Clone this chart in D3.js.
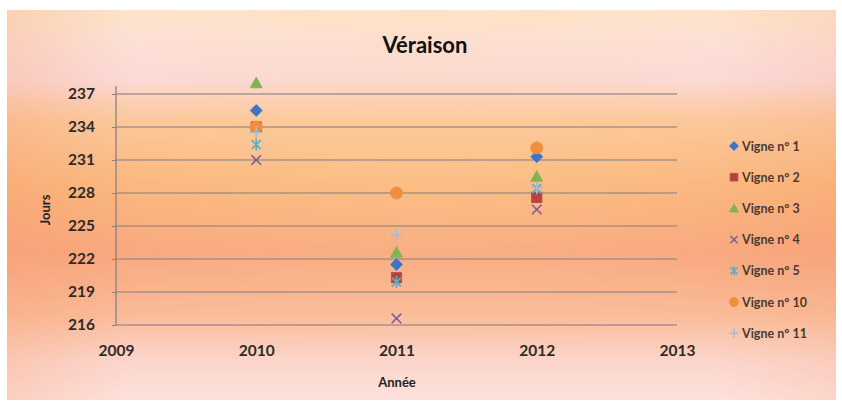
<!DOCTYPE html>
<html>
<head>
<meta charset="utf-8">
<script src="https://cdn.jsdelivr.net/npm/d3@7"></script>
<style>
  html, body { margin: 0; padding: 0; background: #ffffff; }
  svg { display: block; }
  text { font-family: Lato, "Open Sans", "Liberation Sans", sans-serif; }
</style>
</head>
<body>
<svg id="chart" width="842" height="408"></svg>
<script>
// Véraison dates (day of year) per vine, by year
const years = [2010, 2011, 2012];
const vigne1 = [235.5, 221.5, 231.3];
const vigne2 = [234.0, 220.3, 227.6];
const vigne3 = [238.0, 222.6, 229.5];
const vigne4 = [231.0, 216.6, 226.5];
const vigne5 = [232.4, 219.9, 228.4];
const vigne10 = [234.0, 228.0, 232.1];
const vigne11 = [233.5, 224.2, 228.5];

const seriesNames = ["Vigne n° 1", "Vigne n° 2", "Vigne n° 3", "Vigne n° 4", "Vigne n° 5", "Vigne n° 10", "Vigne n° 11"];
const seriesValues = [vigne1, vigne2, vigne3, vigne4, vigne5, vigne10, vigne11];
const seriesColors = ["#3f74c2", "#b7423f", "#82b352", "#7d5c9e", "#5aaec6", "#ef8e3c", "#a9bbd9"];
const seriesShapes = ["diamond", "square", "triangle", "x", "star", "circle", "plus"];

const xTicks = [2009, 2010, 2011, 2012, 2013];
const yTicks = [216, 219, 222, 225, 228, 231, 234, 237];

const svg = d3.select("#chart");

// Background gradient
const defs = svg.append("defs");
const bg = defs.append("linearGradient").attr("id", "bg")
  .attr("x1", 0).attr("y1", 0).attr("x2", 0).attr("y2", 1);
[
  [0.00, "#fde4c8"], [0.08, "#fce0d6"], [0.18, "#fbd9d8"], [0.28, "#fbc79c"],
  [0.45, "#fab57c"], [0.62, "#f8a67e"], [0.78, "#fabb98"], [0.90, "#fcd5cb"], [1.00, "#fde1dc"]
].forEach(([o, c]) => bg.append("stop").attr("offset", o).attr("stop-color", c));

const side = defs.append("linearGradient").attr("id", "side")
  .attr("x1", 0).attr("y1", 0).attr("x2", 1).attr("y2", 0);
[[0, 0.25], [0.15, 0], [0.85, 0], [1, 0.15]].forEach(([o, a]) =>
  side.append("stop").attr("offset", o).attr("stop-color", "#f59a6a").attr("stop-opacity", a));

const glow = defs.append("radialGradient").attr("id", "glow")
  .attr("cx", 0.5).attr("cy", 0.4).attr("r", 0.5);
glow.append("stop").attr("offset", 0).attr("stop-color", "#ffd69a").attr("stop-opacity", 0.3);
glow.append("stop").attr("offset", 1).attr("stop-color", "#ffd69a").attr("stop-opacity", 0);

[ "url(#bg)", "url(#side)", "url(#glow)" ].forEach(f =>
  svg.append("rect").attr("x", 7).attr("y", 10).attr("width", 829).attr("height", 390).attr("fill", f));

// Scales
const x = d3.scaleLinear().domain([2009, 2013]).range([116, 677]);
const y = d3.scaleLinear().domain([216, 237]).range([325, 94]);

// Gridlines
svg.append("g").selectAll("line").data(yTicks).join("line")
  .attr("x1", x(2009)).attr("x2", x(2013))
  .attr("y1", d => y(d)).attr("y2", d => y(d))
  .attr("stroke", "#9a8884").attr("stroke-width", 1.3).attr("stroke-opacity", 0.85);

// Y axis
const yAxis = svg.append("g").attr("transform", `translate(${x(2009)},0)`)
  .call(d3.axisLeft(y).tickValues(yTicks).tickSize(4).tickPadding(17).tickFormat(d3.format("d")));
yAxis.select(".domain").attr("d", `M0,${y(216)}V${y(237) - 8}`).attr("stroke", "#8a8080").attr("stroke-width", 1.3);
yAxis.selectAll(".tick line").attr("stroke", "#8a8080");
yAxis.selectAll(".tick text").attr("font-size", 15.5).attr("fill", "#2e2a26").attr("font-weight", 700);

// X axis labels
const xAxis = svg.append("g").attr("transform", `translate(0,${y(216)})`)
  .call(d3.axisBottom(x).tickValues(xTicks).tickSize(0).tickPadding(20).tickFormat(d3.format("d")));
xAxis.select(".domain").remove();
xAxis.selectAll(".tick text").attr("font-size", 15.5).attr("fill", "#2e2a26").attr("font-weight", 700);

// Titles
svg.append("text").attr("x", 425).attr("y", 53).attr("text-anchor", "middle")
  .attr("font-size", 22).attr("font-weight", "bold").attr("fill", "#111").text("Véraison");
svg.append("text").attr("transform", "translate(50,210) rotate(-90)").attr("text-anchor", "middle")
  .attr("font-size", 13).attr("font-weight", "bold").attr("fill", "#222").text("Jours");
svg.append("text").attr("x", 397).attr("y", 387).attr("text-anchor", "middle")
  .attr("font-size", 13).attr("font-weight", "bold").attr("fill", "#222").text("Année");

// Marker shapes
function markerPath(shape, s) {
  const h = s / 2;
  switch (shape) {
    case "diamond": return `M0,${-h}L${h},0L0,${h}L${-h},0Z`;
    case "square": { const q = h * 0.85; return `M${-q},${-q}H${q}V${q}H${-q}Z`; }
    case "triangle": return `M0,${-h}L${h},${h * 0.8}L${-h},${h * 0.8}Z`;
    case "circle": return d3.symbol(d3.symbolCircle, Math.PI * h * h)();
    case "x": { const q = h * 0.8; return `M${-q},${-q}L${q},${q}M${q},${-q}L${-q},${q}`; }
    case "star": { const q = h * 0.75; return `M${-q},${-q}L${q},${q}M${q},${-q}L${-q},${q}M0,${-h}V${h}`; }
    case "plus": return `M${-h},0H${h}M0,${-h}V${h}`;
  }
}
const stroked = s => s === "x" || s === "star" || s === "plus";

function drawMarker(g, shape, color, size) {
  g.append("path").attr("d", markerPath(shape, size))
    .attr("fill", stroked(shape) ? "none" : color)
    .attr("stroke", color)
    .attr("stroke-width", stroked(shape) ? 1.6 : 0.8)
    .attr("stroke-linejoin", "round");
}

// Points
seriesValues.forEach((vals, i) => {
  const g = svg.append("g");
  vals.forEach((v, j) => {
    const m = g.append("g").attr("transform", `translate(${x(years[j])},${y(v)})`);
    drawMarker(m, seriesShapes[i], seriesColors[i], 12);
  });
});

// Legend
const legend = svg.append("g");
seriesNames.forEach((name, i) => {
  const ly = 146 + i * 31.2;
  const m = legend.append("g").attr("transform", `translate(734,${ly})`);
  drawMarker(m, seriesShapes[i], seriesColors[i], 9);
  legend.append("text").attr("x", 742).attr("y", ly + 4.5)
    .attr("font-size", 12.5).attr("font-weight", 700).attr("fill", "#4a3a30").text(name);
});
</script>
</body>
</html>
